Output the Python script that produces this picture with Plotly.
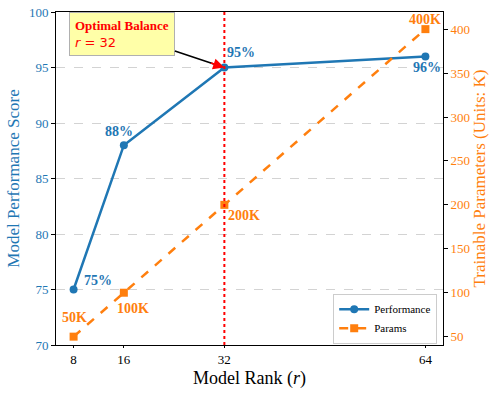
import plotly.graph_objects as go

# data
ranks = [8, 16, 32, 64]
performance = [75, 88, 95, 96]
params_k = [50, 100, 200, 400]
perf_labels = ["75%", "88%", "95%", "96%"]
param_labels = ["50K", "100K", "200K", "400K"]
optimal_rank = 32

BLUE = "#1f77b4"
ORANGE = "#ff7f0e"
FONT = "Liberation Serif, Times New Roman, serif"

fig = go.Figure()

fig.add_trace(go.Scatter(
    x=ranks, y=performance, mode="lines+markers", name="Performance",
    line=dict(color=BLUE, width=2.5),
    marker=dict(symbol="circle", size=8, color=BLUE),
    yaxis="y",
))
fig.add_trace(go.Scatter(
    x=ranks, y=params_k, mode="lines+markers", name="Params",
    line=dict(color=ORANGE, width=2.5, dash="dash"),
    marker=dict(symbol="square", size=8, color=ORANGE),
    yaxis="y2",
))

# optimal rank marker line
fig.add_shape(type="line", x0=optimal_rank, x1=optimal_rank, xref="x",
              y0=0, y1=1, yref="paper",
              line=dict(color="red", width=2, dash="dot"))

# data labels (offsets in pixels)
perf_shift = [(24, 9), (-5, 14), (17, 15), (2, -11)]
param_shift = [(1, 19), (9, -16), (20, -11), (0, 10)]
for x, y, t, (dx, dy) in zip(ranks, performance, perf_labels, perf_shift):
    fig.add_annotation(x=x, y=y, xref="x", yref="y", text=f"<b>{t}</b>",
                       showarrow=False, xshift=dx, yshift=dy,
                       font=dict(family=FONT, size=14, color=BLUE))
for x, y, t, (dx, dy) in zip(ranks, params_k, param_labels, param_shift):
    fig.add_annotation(x=x, y=y, xref="x", yref="y2", text=f"<b>{t}</b>",
                       showarrow=False, xshift=dx, yshift=dy,
                       font=dict(family=FONT, size=14, color=ORANGE))

# callout box with black arrow, then red arrow head on top
opt_perf = performance[ranks.index(optimal_rank)]
fig.add_annotation(
    x=optimal_rank, y=opt_perf, xref="x", yref="y",
    ax=-102, ay=-34,
    text="<b>Optimal Balance</b><br><span style='font-family:DejaVu Sans'><i>r</i> = 32</span>",
    align="left", showarrow=True, arrowhead=0, arrowwidth=1.6,
    arrowcolor="black", standoff=4,
    font=dict(family=FONT, size=13, color="red"),
    bgcolor="#ffffa8", bordercolor="#b0b0b0", borderwidth=1, borderpad=5,
)
fig.add_annotation(
    x=optimal_rank, y=opt_perf, xref="x", yref="y",
    ax=-15, ay=-5, text="", showarrow=True, arrowhead=2, arrowsize=1.4,
    arrowwidth=1.6, arrowcolor="red", standoff=0,
)

# x axis title placed by hand (plotly keeps it too low otherwise)
fig.add_annotation(
    x=0.5, y=0, xref="paper", yref="paper", yanchor="middle", yshift=-33,
    text="Model Rank (<i>r</i>)", showarrow=False,
    font=dict(family=FONT, size=18, color="black"),
)

fig.update_layout(
    width=499, height=394,
    margin=dict(l=56, r=56, t=12, b=49),
    plot_bgcolor="white", paper_bgcolor="white",
    font=dict(family=FONT, size=13, color="black"),
    showlegend=True,
    legend=dict(x=0.985, y=0.004, xanchor="right", yanchor="bottom",
                bgcolor="rgba(255,255,255,0.9)", bordercolor="#cccccc",
                borderwidth=1, font=dict(family=FONT, size=11),
                tracegroupgap=0),
    xaxis=dict(
        range=[5.2, 66.8], tickvals=ranks, ticktext=[str(r) for r in ranks],
        showgrid=False, zeroline=False, automargin=False,
        showline=True, linecolor="black", linewidth=1, mirror=True,
        ticks="outside", ticklen=2, tickcolor="black",
        tickfont=dict(family=FONT, size=13, color="black"),
    ),
    yaxis=dict(
        range=[70, 100], tickvals=[70, 75, 80, 85, 90, 95, 100],
        showgrid=True, gridcolor="#d3d3d3", griddash="dash", gridwidth=0.8,
        zeroline=False, showline=True, linecolor="black", linewidth=1,
        automargin=False,
        ticks="outside", ticklen=4, tickcolor="black",
        tickfont=dict(family=FONT, size=13, color=BLUE),
        title=dict(text="Model Performance Score", standoff=4,
                   font=dict(family=FONT, size=17, color=BLUE)),
    ),
    yaxis2=dict(
        range=[40.5, 419.5], tickvals=[50, 100, 150, 200, 250, 300, 350, 400],
        overlaying="y", side="right", showgrid=False, zeroline=False,
        showline=True, linecolor="black", linewidth=1, automargin=False,
        ticks="outside", ticklen=4, tickcolor="black",
        tickfont=dict(family=FONT, size=13, color=ORANGE),
        title=dict(text="Trainable Parameters (Units: K)", standoff=2,
                   font=dict(family=FONT, size=17, color=ORANGE)),
    ),
)

# drop the default 8px body margin so the figure fills the window
fig.write_html("out.html", config={"displayModeBar": False},
               post_script="document.body.style.margin = '0';")
